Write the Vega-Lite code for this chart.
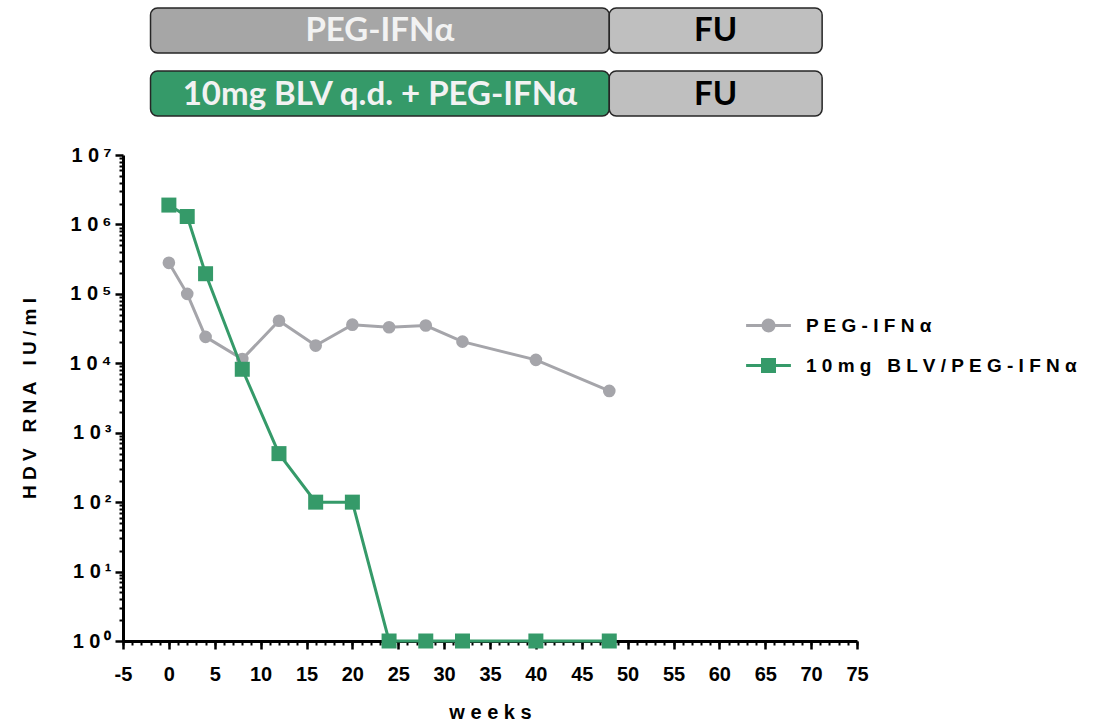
{
  "$schema": "https://vega.github.io/schema/vega-lite/v6.json",
  "padding": {"left": 20, "top": 7, "right": 0, "bottom": 0},
  "config": {"view": {"stroke": null}, "font": "Liberation Sans"},
  "spacing": 39,
  "bounds": "flush",
  "vconcat": [
    {
      "width": 734,
      "height": 108,
      "data": {"values": [
        {"row": "A", "phase": "PEG", "label": "PEG-IFNα", "start": -2, "end": 48},
        {"row": "A", "phase": "FU", "label": "FU", "start": 48, "end": 71.2},
        {"row": "B", "phase": "BLV", "label": "10mg BLV q.d. + PEG-IFNα", "start": -2, "end": 48},
        {"row": "B", "phase": "FU", "label": "FU", "start": 48, "end": 71.2}
      ]},
      "transform": [{"calculate": "(datum.start + datum.end) / 2", "as": "mid"}],
      "layer": [
        {
          "mark": {"type": "rect", "cornerRadius": 7, "stroke": "#262626", "strokeWidth": 1.5},
          "encoding": {
            "y": {"field": "row", "type": "nominal", "axis": null, "scale": {"paddingInner": 0.286, "paddingOuter": 0}},
            "x": {"field": "start", "type": "quantitative", "scale": {"domain": [-5, 75], "nice": false}, "axis": null},
            "x2": {"field": "end"},
            "color": {"field": "phase", "type": "nominal", "scale": {"domain": ["PEG", "BLV", "FU"], "range": ["#a6a6a6", "#359a69", "#bfbfbf"]}, "legend": null}
          }
        },
        {
          "mark": {"type": "text", "font": "Lato", "fontWeight": "bold", "fontSize": 33, "dy": 1},
          "encoding": {
            "y": {"field": "row", "type": "nominal", "axis": null},
            "x": {"field": "mid", "type": "quantitative", "axis": null},
            "text": {"field": "label"},
            "color": {"field": "phase", "type": "nominal", "scale": {"domain": ["PEG", "BLV", "FU"], "range": ["#f2f2f2", "#f2f2f2", "#000000"]}, "legend": null}
          }
        }
      ],
      "resolve": {"scale": {"color": "independent"}}
    },
    {
      "width": 734,
      "height": 486,
      "data": {"values": [
        {"series": "PEG-IFNα", "week": 0, "hdv": 280000},
        {"series": "PEG-IFNα", "week": 2, "hdv": 100000},
        {"series": "PEG-IFNα", "week": 4, "hdv": 24000},
        {"series": "PEG-IFNα", "week": 8, "hdv": 11500},
        {"series": "PEG-IFNα", "week": 12, "hdv": 41000},
        {"series": "PEG-IFNα", "week": 16, "hdv": 18000},
        {"series": "PEG-IFNα", "week": 20, "hdv": 36000},
        {"series": "PEG-IFNα", "week": 24, "hdv": 33000},
        {"series": "PEG-IFNα", "week": 28, "hdv": 35000},
        {"series": "PEG-IFNα", "week": 32, "hdv": 20500},
        {"series": "PEG-IFNα", "week": 40, "hdv": 11200},
        {"series": "PEG-IFNα", "week": 48, "hdv": 4000},
        {"series": "10mg BLV/PEG-IFNα", "week": 0, "hdv": 1900000},
        {"series": "10mg BLV/PEG-IFNα", "week": 2, "hdv": 1300000},
        {"series": "10mg BLV/PEG-IFNα", "week": 4, "hdv": 195000},
        {"series": "10mg BLV/PEG-IFNα", "week": 8, "hdv": 8200},
        {"series": "10mg BLV/PEG-IFNα", "week": 12, "hdv": 500},
        {"series": "10mg BLV/PEG-IFNα", "week": 16, "hdv": 100},
        {"series": "10mg BLV/PEG-IFNα", "week": 20, "hdv": 100},
        {"series": "10mg BLV/PEG-IFNα", "week": 24, "hdv": 1},
        {"series": "10mg BLV/PEG-IFNα", "week": 28, "hdv": 1},
        {"series": "10mg BLV/PEG-IFNα", "week": 32, "hdv": 1},
        {"series": "10mg BLV/PEG-IFNα", "week": 40, "hdv": 1},
        {"series": "10mg BLV/PEG-IFNα", "week": 48, "hdv": 1}
      ]},
      "layer": [
        {
          "transform": [{"filter": "datum.series == 'PEG-IFNα'"}],
          "mark": {"type": "line", "strokeWidth": 3, "color": "#a5a5aa", "clip": false},
          "encoding": {
            "x": {"field": "week", "type": "quantitative", "scale": {"domain": [-5, 75], "nice": false},
              "axis": {"orient": "bottom", "values": [-5, 0, 5, 10, 15, 20, 25, 30, 35, 40, 45, 50, 55, 60, 65, 70, 75], "grid": false,
                "labelExpr": "'' + datum.value", "labelFlush": false, "labelOverlap": false,
                "domainColor": "#000000", "domainWidth": 3, "tickColor": "#000000", "tickWidth": 2.5, "tickSize": 8,
                "labelFont": "Liberation Sans", "labelFontWeight": "bold", "labelFontSize": 20, "labelColor": "#000000", "labelPadding": 15,
                "title": "w e e k s", "titleFont": "Liberation Sans", "titleFontWeight": "bold", "titleFontSize": 20, "titleColor": "#000000", "titlePadding": 18}},
            "y": {"field": "hdv", "type": "quantitative", "scale": {"type": "log", "domain": [1, 10000000], "nice": false},
              "axis": {"orient": "left", "values": [1, 10, 100, 1000, 10000, 100000, 1000000, 10000000], "grid": false,
                "labelExpr": "'1\u00a00\u2009' + ['⁰','¹','²','³','⁴','⁵','⁶','⁷'][round(log(datum.value)/LN10)]", "labelFlush": false, "labelOverlap": false,
                "domainColor": "#000000", "domainWidth": 3, "tickColor": "#000000", "tickWidth": 2.5, "tickSize": 8,
                "labelFont": "Liberation Sans", "labelFontWeight": "bold", "labelFontSize": 20, "labelColor": "#000000", "labelPadding": 4,
                "title": "H D V\u00a0\u00a0 R N A\u00a0\u00a0 I U / m l", "titleFont": "Liberation Sans", "titleFontWeight": "bold", "titleFontSize": 19, "titleColor": "#000000", "titlePadding": 30}}
          }
        },
        {
          "transform": [{"filter": "datum.series == 'PEG-IFNα'"}],
          "mark": {"type": "point", "shape": "circle", "size": 160, "filled": true, "opacity": 1, "color": "#a5a5aa", "clip": false},
          "encoding": {
            "x": {"field": "week", "type": "quantitative", "scale": {"domain": [-5, 75], "nice": false},
              "axis": {"orient": "bottom", "tickCount": 80, "labels": false, "domain": false, "grid": false, "tickColor": "#000000", "tickWidth": 2, "tickSize": 4, "title": null}},
            "y": {"field": "hdv", "type": "quantitative", "scale": {"type": "log", "domain": [1, 10000000], "nice": false},
              "axis": {"orient": "left", "values": [2,3,4,5,6,7,8,9,20,30,40,50,60,70,80,90,200,300,400,500,600,700,800,900,2000,3000,4000,5000,6000,7000,8000,9000,20000,30000,40000,50000,60000,70000,80000,90000,200000,300000,400000,500000,600000,700000,800000,900000,2000000,3000000,4000000,5000000,6000000,7000000,8000000,9000000],
                "labels": false, "domain": false, "grid": false, "tickColor": "#000000", "tickWidth": 2, "tickSize": 4, "title": null}}
          }
        },
        {
          "transform": [{"filter": "datum.series != 'PEG-IFNα'"}],
          "mark": {"type": "line", "strokeWidth": 3, "color": "#359a69", "clip": false},
          "encoding": {
            "x": {"field": "week", "type": "quantitative", "axis": null},
            "y": {"field": "hdv", "type": "quantitative", "axis": null}
          }
        },
        {
          "transform": [{"filter": "datum.series != 'PEG-IFNα'"}],
          "mark": {"type": "point", "shape": "square", "size": 225, "filled": true, "opacity": 1, "color": "#359a69", "clip": false},
          "encoding": {
            "x": {"field": "week", "type": "quantitative", "axis": null},
            "y": {"field": "hdv", "type": "quantitative", "axis": null}
          }
        },
        {
          "transform": [{"filter": "false"}],
          "mark": {"type": "point", "filled": true, "opacity": 1},
          "encoding": {
            "color": {"field": "series", "type": "nominal",
              "scale": {"domain": ["PEG-IFNα", "10mg BLV/PEG-IFNα"], "range": ["#a5a5aa", "#359a69"]},
              "legend": {"orient": "none", "legendX": 636, "legendY": 308, "title": null, "symbolSize": 196, "symbolStrokeWidth": 0, "symbolOpacity": 1,
                "labelFont": "Liberation Sans", "labelFontWeight": "bold", "labelFontSize": 19, "labelColor": "#000000", "labelOffset": 28, "rowPadding": 20, "labelLimit": 0,
                "labelExpr": "datum.label == 'PEG-IFNα' ? 'P E G - I F N α' : '1 0 m g\u00a0\u00a0 B L V / P E G - I F N α'"}},
            "shape": {"field": "series", "type": "nominal",
              "scale": {"domain": ["PEG-IFNα", "10mg BLV/PEG-IFNα"], "range": ["M-3.2,-0.21H3.2V0.21H-3.2Z M1,0A1,1,0,1,1,-1,0A1,1,0,1,1,1,0Z", "M-3.2,-0.21H3.2V0.21H-3.2Z M-1.07,-1.07H1.07V1.07H-1.07Z"]},
              "legend": {"orient": "none", "legendX": 636, "legendY": 308, "title": null, "symbolSize": 196, "symbolStrokeWidth": 0, "symbolOpacity": 1,
                "labelFont": "Liberation Sans", "labelFontWeight": "bold", "labelFontSize": 19, "labelColor": "#000000", "labelOffset": 28, "rowPadding": 20, "labelLimit": 0,
                "labelExpr": "datum.label == 'PEG-IFNα' ? 'P E G - I F N α' : '1 0 m g\u00a0\u00a0 B L V / P E G - I F N α'"}}
          }
        }
      ],
      "resolve": {"axis": {"x": "independent", "y": "independent"}}
    }
  ]
}
